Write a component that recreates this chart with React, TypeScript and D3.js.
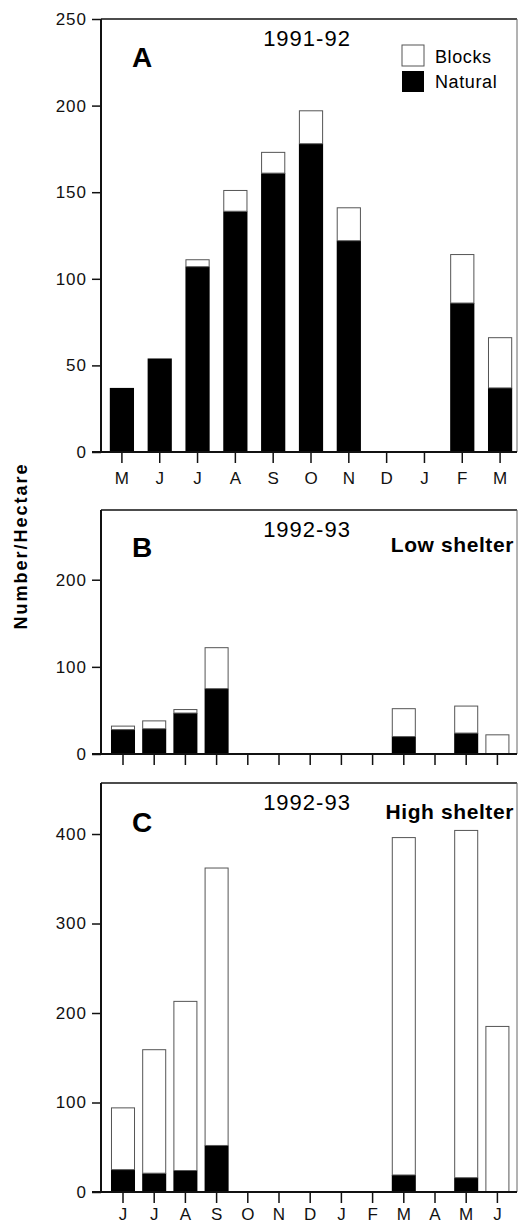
import React, { useEffect, useRef } from "react";
import * as d3 from "d3";

// panel A, 1991-92
const monthsA = ["M", "J", "J", "A", "S", "O", "N", "D", "J", "F", "M"];
const naturalA = [37, 54, 107, 139, 161, 178, 122, 0, 0, 86, 37];
const blocksA = [0, 0, 4, 12, 12, 19, 19, 0, 0, 28, 29];
const ticksA = [0, 50, 100, 150, 200, 250];

// panels B and C, 1992-93
const monthsBC = ["J", "J", "A", "S", "O", "N", "D", "J", "F", "M", "A", "M", "J"];
const naturalB = [28, 29, 47, 75, 0, 0, 0, 0, 0, 20, 0, 24, 0];
const blocksB = [4, 9, 4, 47, 0, 0, 0, 0, 0, 32, 0, 31, 22];
const ticksB = [0, 100, 200];
const naturalC = [25, 21, 24, 52, 0, 0, 0, 0, 0, 19, 0, 16, 0];
const blocksC = [69, 138, 189, 310, 0, 0, 0, 0, 0, 377, 0, 388, 185];
const ticksC = [0, 100, 200, 300, 400];

const FONT = "Arial, 'Liberation Sans', Helvetica, sans-serif";

function drawPanel(svg, opts) {
  const { top, bottom, yMax, ticks, months, natural, blocks, xRange, pad, letter, year, note, showLabels, legend, labelPad } = opts;
  const left = 101, right = 517;
  const g = svg.append("g");

  const y = d3.scaleLinear().domain([0, yMax]).range([bottom, top]);
  const x = d3.scaleBand().domain(months.map((m, i) => i)).range(xRange)
    .paddingInner(pad).paddingOuter(pad / 2);

  // frame
  g.append("line").attr("x1", left).attr("x2", right).attr("y1", top).attr("y2", top)
    .attr("stroke", "#111").attr("stroke-width", 1.6);
  g.append("line").attr("x1", right).attr("x2", right).attr("y1", top).attr("y2", bottom)
    .attr("stroke", "#666").attr("stroke-width", 1);

  // bars
  const idx = months.map((m, i) => i);
  g.selectAll(".nat").data(idx.filter(i => natural[i] > 0)).join("rect")
    .attr("x", i => x(i)).attr("width", x.bandwidth())
    .attr("y", i => y(natural[i])).attr("height", i => y(0) - y(natural[i]))
    .attr("fill", "#000");
  g.selectAll(".blk").data(idx.filter(i => blocks[i] > 0)).join("rect")
    .attr("x", i => x(i) + 0.5).attr("width", x.bandwidth() - 1)
    .attr("y", i => y(natural[i] + blocks[i]))
    .attr("height", i => y(natural[i]) - y(natural[i] + blocks[i]))
    .attr("fill", "#fff").attr("stroke", "#555").attr("stroke-width", 1);

  // y axis
  const ya = g.append("g").attr("transform", `translate(${left},0)`)
    .call(d3.axisLeft(y).tickValues(ticks).tickSize(9).tickPadding(5).tickSizeOuter(0));
  ya.select(".domain").remove();
  ya.append("line").attr("x1", 0).attr("x2", 0).attr("y1", top).attr("y2", bottom)
    .attr("stroke", "#111").attr("stroke-width", 2);
  ya.selectAll(".tick line").attr("stroke", "#111").attr("stroke-width", 1.5);
  ya.selectAll(".tick text").attr("font-size", 17).attr("font-family", FONT)
    .attr("fill", "#111").attr("letter-spacing", 1);

  // x axis
  const xa = g.append("g").attr("transform", `translate(0,${bottom})`)
    .call(d3.axisBottom(x).tickSize(11).tickPadding(labelPad).tickSizeOuter(0)
      .tickFormat(i => (showLabels ? months[i] : "")));
  xa.select(".domain").remove();
  xa.append("line").attr("x1", 92).attr("x2", right).attr("y1", 0).attr("y2", 0)
    .attr("stroke", "#111").attr("stroke-width", 2);
  xa.selectAll(".tick line").attr("stroke", "#111").attr("stroke-width", 1.5);
  xa.selectAll(".tick text").attr("font-size", 17).attr("font-family", FONT).attr("fill", "#111");

  // texts
  g.append("text").attr("x", 132).attr("y", top + letter.dy).text(letter.t)
    .attr("font-size", 28).attr("font-weight", "bold").attr("font-family", FONT);
  g.append("text").attr("x", 307).attr("y", top + 27).text(year)
    .attr("text-anchor", "middle").attr("font-size", 22).attr("letter-spacing", 1)
    .attr("font-family", FONT);
  if (note) {
    g.append("text").attr("x", 514).attr("y", top + note.dy).text(note.t)
      .attr("text-anchor", "end").attr("font-size", 21).attr("font-weight", "bold")
      .attr("letter-spacing", 0.6).attr("font-family", FONT);
  }
  if (legend) {
    const lg = g.append("g").attr("transform", `translate(402,${top + 26})`);
    lg.append("rect").attr("width", 22).attr("height", 21).attr("fill", "#fff")
      .attr("stroke", "#555").attr("stroke-width", 1);
    lg.append("rect").attr("y", 26).attr("width", 22).attr("height", 21).attr("fill", "#000");
    lg.append("text").attr("x", 33).attr("y", 18).text("Blocks")
      .attr("font-size", 18).attr("font-family", FONT).attr("letter-spacing", 0.6);
    lg.append("text").attr("x", 33).attr("y", 43).text("Natural")
      .attr("font-size", 18).attr("font-family", FONT).attr("letter-spacing", 0.6);
  }
}

export default function App() {
  const ref = useRef(null);

  useEffect(() => {
    const svg = d3.select(ref.current);
    svg.selectAll("*").remove();

    drawPanel(svg, {
      top: 19, bottom: 452, yMax: 250, ticks: ticksA,
      months: monthsA, natural: naturalA, blocks: blocksA,
      xRange: [103, 519], pad: 0.36, labelPad: 9,
      letter: { t: "A", dy: 48 }, year: "1991-92", showLabels: true, legend: true,
    });
    drawPanel(svg, {
      top: 510, bottom: 754, yMax: 280, ticks: ticksB,
      months: monthsBC, natural: naturalB, blocks: blocksB,
      xRange: [107.4, 513], pad: 0.23, labelPad: 9,
      letter: { t: "B", dy: 47 }, year: "1992-93",
      note: { t: "Low shelter", dy: 42 }, showLabels: false,
    });
    drawPanel(svg, {
      top: 783, bottom: 1192, yMax: 457, ticks: ticksC,
      months: monthsBC, natural: naturalC, blocks: blocksC,
      xRange: [107.4, 513], pad: 0.23, labelPad: 5,
      letter: { t: "C", dy: 49 }, year: "1992-93",
      note: { t: "High shelter", dy: 36 }, showLabels: true,
    });

    svg.append("text")
      .attr("transform", "translate(27,546) rotate(-90)")
      .attr("text-anchor", "middle").text("Number/Hectare")
      .attr("font-size", 18).attr("font-weight", "bold").attr("letter-spacing", 2)
      .attr("font-family", FONT);
  }, []);

  return (
    <svg ref={ref} width={518} height={1223}
      style={{ position: "absolute", left: 0, top: 0, background: "#fff" }} />
  );
}
